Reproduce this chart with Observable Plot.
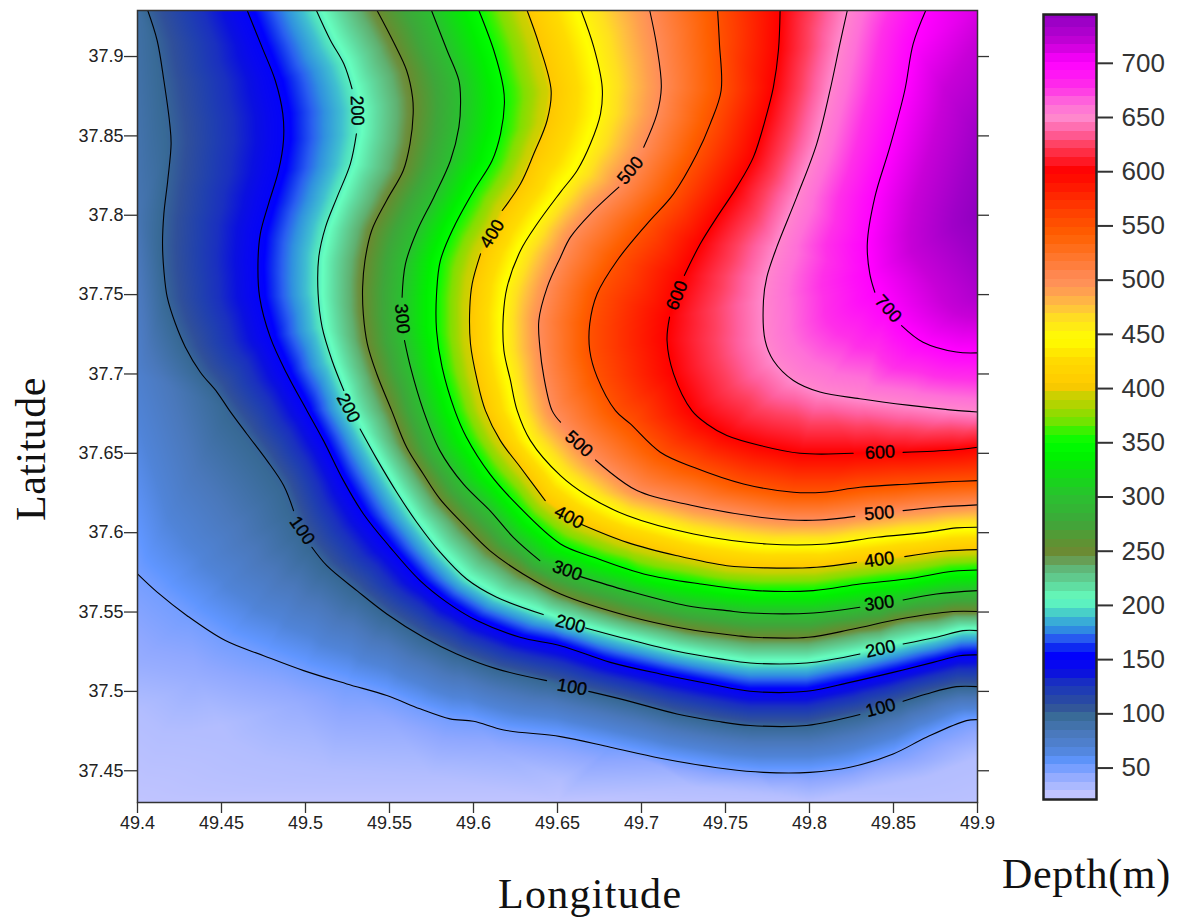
<!DOCTYPE html>
<html><head><meta charset="utf-8">
<style>
html,body{margin:0;padding:0;background:#fff;width:1180px;height:922px;overflow:hidden;position:relative}
.t{position:absolute;font-family:"Liberation Serif",serif;font-size:42px;line-height:48px;color:#111;white-space:nowrap}
#main,#bar{position:absolute;top:0}
#main{left:0}#bar{left:1030px}
</style>
<script src="https://cdn.jsdelivr.net/npm/d3@7"></script>
<script src="https://cdn.jsdelivr.net/npm/@observablehq/plot@0.6"></script>
</head><body>
<div id="main"></div><div id="bar"></div>
<div class="t" style="left:498px;top:870px;letter-spacing:1.3px">Longitude</div>
<div class="t" style="left:1002px;top:850px;letter-spacing:.7px">Depth(m)</div>
<div class="t" style="left:31px;top:449px;transform:translate(-50%,-50%) rotate(-90deg);letter-spacing:.5px">Latitude</div>
<script>
// Traced isolines: [lon, lat] or [lon, lat, 1] where the line is interrupted by its label
const depth30 = [[49.4,37.4879],[49.4157,37.4753],[49.4295,37.4742],[49.4494,37.4784],[49.4554,37.469],[49.4752,37.4585],[49.5149,37.4501],[49.5744,37.4469],[49.6518,37.4438],[49.731,37.4396],[49.7805,37.4354],[49.83,37.4375],[49.8696,37.4459],[49.9,37.4585]];
const depth40 = [[49.4,37.5173],[49.4355,37.5089],[49.4949,37.4921],[49.5544,37.4753],[49.6138,37.4627],[49.6518,37.4574],[49.7112,37.4522],[49.7706,37.4438],[49.83,37.4459],[49.8696,37.4564],[49.9,37.4701]];
const depth50 = [[49.4,37.574],[49.4117,37.5625],[49.4295,37.5477],[49.4523,37.532],[49.4751,37.5225],[49.4989,37.5131],[49.5246,37.5047],[49.5484,37.4974],[49.5682,37.489],[49.586,37.4827],[49.6,37.4812],[49.618,37.4757],[49.6518,37.4715],[49.6815,37.4648],[49.7112,37.4579],[49.7508,37.4511],[49.7726,37.449],[49.8003,37.449],[49.8241,37.4522],[49.8498,37.4606],[49.8696,37.4711],[49.8934,37.4816],[49.9,37.4822]];
const depth100 = [[49.4061,37.929],[49.4117,37.9101],[49.4157,37.8849],[49.4192,37.8576],[49.42,37.845],[49.418,37.8219],[49.4157,37.8009],[49.4149,37.782],[49.4157,37.7652],[49.4177,37.7484],[49.4226,37.7316],[49.4285,37.7169],[49.4374,37.7011],[49.4473,37.6886],[49.4548,37.6769],[49.4651,37.6622],[49.4771,37.6454],[49.487,37.6297],[49.4929,37.6139],[49.498,37.6013,1],[49.5038,37.5908],[49.5127,37.5792],[49.5306,37.5635],[49.5484,37.5488],[49.5702,37.5341],[49.59,37.5236],[49.6138,37.5142],[49.6435,37.5068],[49.6587,37.5026,1],[49.6686,37.5],[49.6914,37.4942],[49.7211,37.4858],[49.7449,37.4812],[49.7647,37.4785],[49.7983,37.4785],[49.83,37.4854],[49.8423,37.4896,1],[49.8557,37.4938],[49.8696,37.4984],[49.8874,37.503],[49.9,37.503]];
const depth150 = [[49.4653,37.929],[49.4741,37.9059],[49.482,37.8849],[49.4865,37.8639],[49.4869,37.8471],[49.484,37.8282],[49.478,37.8072],[49.4731,37.7883],[49.4717,37.7694],[49.4727,37.7484],[49.479,37.7232],[49.4889,37.7001],[49.5008,37.677],[49.5107,37.658],[49.5226,37.6328],[49.5345,37.6118],[49.5504,37.5908],[49.5682,37.5698],[49.5842,37.5561],[49.602,37.5446],[49.6277,37.5341],[49.6518,37.5288],[49.6815,37.5183],[49.7112,37.511],[49.7409,37.5047],[49.7647,37.5001],[49.7983,37.5001],[49.8241,37.5057],[49.8498,37.512],[49.8736,37.5183],[49.8894,37.5225],[49.9,37.523]];
const depth200 = [[49.5065,37.929],[49.5149,37.9101],[49.5228,37.8954],[49.5277,37.8797],[49.5307,37.866,1],[49.5303,37.8513],[49.5267,37.8324],[49.5188,37.8114],[49.5119,37.7925],[49.5079,37.7736],[49.5075,37.7505],[49.5099,37.7295],[49.5158,37.7085],[49.5228,37.6896],[49.5255,37.6785,1],[49.5325,37.6653],[49.5424,37.6465],[49.5543,37.6255],[49.5662,37.6066],[49.5801,37.5877],[49.5959,37.5708],[49.6138,37.5593],[49.6415,37.5484],[49.6577,37.5425,1],[49.6667,37.54],[49.6914,37.533],[49.7211,37.5253],[49.7468,37.5205],[49.7647,37.5179],[49.7983,37.5179],[49.83,37.5236],[49.8423,37.5267,1],[49.8557,37.5299],[49.8755,37.5341],[49.8914,37.5383],[49.9,37.5383]];
const depth250 = [[49.5426,37.929],[49.5524,37.9091],[49.5602,37.8912],[49.5637,37.8744],[49.5641,37.8639],[49.5622,37.845],[49.5582,37.8282],[49.5483,37.8093],[49.5394,37.7904],[49.5354,37.7715],[49.534,37.7547],[49.5344,37.7379],[49.5368,37.719],[49.5424,37.7001],[49.5513,37.6769],[49.5602,37.6538],[49.5701,37.637],[49.58,37.6213],[49.5938,37.6055],[49.6097,37.5887],[49.6295,37.574],[49.6518,37.5614],[49.6914,37.5477],[49.727,37.5393],[49.7567,37.5351],[49.7666,37.5341],[49.7993,37.5341],[49.826,37.5393],[49.8538,37.5456],[49.8854,37.5503],[49.9,37.5503]];
const depth300 = [[49.575,37.929],[49.5843,37.9038],[49.5913,37.8849],[49.5923,37.8723],[49.5913,37.8555],[49.5863,37.8345],[49.5764,37.8114],[49.5665,37.7904],[49.5595,37.7694],[49.5575,37.7484],[49.5575,37.7348,1],[49.5589,37.7211],[49.5625,37.7043],[49.5702,37.6769],[49.58,37.6517],[49.5939,37.6307],[49.6098,37.6139],[49.6237,37.5971],[49.6395,37.5824],[49.6558,37.5761,1],[49.6637,37.5723],[49.6914,37.5635],[49.727,37.554],[49.7508,37.5509],[49.7647,37.5494],[49.8022,37.5494],[49.83,37.553],[49.8415,37.5555,1],[49.8557,37.5576],[49.8755,37.5614],[49.9,37.5635]];
const depth350 = [[49.6032,37.929],[49.6121,37.9038],[49.6177,37.8807],[49.6184,37.8702],[49.6161,37.8513],[49.6111,37.8345],[49.6002,37.8156],[49.5883,37.7925],[49.5803,37.7715],[49.578,37.7505],[49.578,37.7274],[49.5813,37.7043],[49.5889,37.6769],[49.5958,37.6601],[49.6097,37.637],[49.6255,37.6181],[49.6518,37.5929],[49.6716,37.5845],[49.7013,37.574],[49.735,37.5677],[49.7686,37.5635],[49.8022,37.5635],[49.83,37.5677],[49.8577,37.5708],[49.8854,37.5757],[49.9,37.5765]];
const depth400 = [[49.6319,37.929],[49.6389,37.908],[49.6462,37.8786],[49.6438,37.8597],[49.6359,37.8387],[49.628,37.8198],[49.6171,37.803],[49.6111,37.7883,1],[49.6042,37.7757],[49.5992,37.7568],[49.5978,37.7421],[49.5982,37.719],[49.6022,37.6959],[49.6071,37.6769],[49.616,37.658],[49.6279,37.6412],[49.6427,37.6202],[49.6568,37.6097,1],[49.6637,37.6055],[49.6914,37.5939],[49.7211,37.5855],[49.7508,37.5792],[49.7746,37.5778],[49.8043,37.5782],[49.828,37.5813],[49.8415,37.583,1],[49.8567,37.5849],[49.8795,37.5883],[49.9,37.5893]];
const depth450 = [[49.6641,37.929],[49.6716,37.9059],[49.6766,37.8807],[49.6756,37.8639],[49.6696,37.845],[49.6617,37.8282],[49.6518,37.8146],[49.6379,37.7946],[49.628,37.7778],[49.62,37.7547],[49.6177,37.7358],[49.6181,37.7148],[49.622,37.6959],[49.626,37.6769],[49.6339,37.658],[49.6518,37.6359],[49.6676,37.6234],[49.6914,37.6108],[49.731,37.5992],[49.7746,37.5929],[49.8102,37.5929],[49.8399,37.5971],[49.8696,37.6002],[49.8874,37.603],[49.9,37.6034]];
const depth500 = [[49.7049,37.929],[49.7092,37.9059],[49.7118,37.8807],[49.7092,37.8639],[49.7013,37.8429],[49.6934,37.8282,1],[49.6865,37.8177],[49.6696,37.8009],[49.6577,37.7862],[49.6518,37.7736],[49.6439,37.7547],[49.6389,37.7337],[49.6395,37.7169],[49.6419,37.698],[49.6468,37.6769],[49.6518,37.6696],[49.6627,37.6559,1],[49.6726,37.6458],[49.6973,37.6265],[49.731,37.617],[49.7706,37.6097],[49.7884,37.608],[49.8062,37.608],[49.827,37.6103],[49.8415,37.6122,1],[49.8557,37.6139],[49.8755,37.616],[49.9,37.6175]];
const depth550 = [[49.7453,37.929],[49.7464,37.908],[49.7474,37.8786],[49.7409,37.8576],[49.733,37.8387],[49.7191,37.8135],[49.7033,37.7946],[49.6855,37.7715],[49.6736,37.7505],[49.6692,37.7316],[49.6692,37.7148],[49.6736,37.698],[49.6845,37.6769],[49.6934,37.6685],[49.7112,37.6507],[49.731,37.6412],[49.7607,37.6307],[49.7904,37.6255],[49.8082,37.6255],[49.83,37.6286],[49.8597,37.6307],[49.8854,37.6322],[49.9,37.6328]];
const depth600 = [[49.7825,37.929],[49.7815,37.9038],[49.7785,37.8807],[49.7746,37.8639],[49.7666,37.8366],[49.7567,37.8177],[49.7449,37.7988],[49.735,37.782],[49.7255,37.7621],[49.7211,37.7495,1],[49.7167,37.7358],[49.7152,37.7211],[49.7191,37.7001],[49.73,37.6769],[49.7389,37.6685],[49.7508,37.6612],[49.7706,37.6549],[49.7944,37.65],[49.826,37.65],[49.8419,37.6506,1],[49.8557,37.6506],[49.8854,37.6521],[49.9,37.6538]];
const depth650 = [[49.8225,37.929],[49.8181,37.908],[49.8122,37.8786],[49.8043,37.845],[49.7924,37.8114],[49.7805,37.7799],[49.7746,37.761],[49.7726,37.7463],[49.7736,37.7211],[49.7785,37.7085],[49.7904,37.6959],[49.8062,37.6886],[49.83,37.6844],[49.8597,37.6802],[49.8835,37.6774],[49.9,37.676]];
const depth700 = [[49.8692,37.929],[49.8617,37.908],[49.8567,37.8786],[49.8478,37.8429],[49.8389,37.8114],[49.8344,37.782],[49.8359,37.7631],[49.8389,37.7515],[49.8468,37.741,1],[49.8548,37.7305],[49.8676,37.72],[49.8874,37.7138],[49.9,37.7133]];
// Depths read at the edges of the map, away from any isoline: [lon, lat, depth]
const edgeDepths = [[49.4,37.929,92],[49.4,37.8,85],[49.4,37.7,72],[49.4,37.43,25],[49.65,37.43,25],[49.8,37.43,27],[49.9,37.43,27],[49.9,37.929,712],[49.9,37.85,735],[49.9,37.8,745],[49.9,37.75,728]];

// Contour labels
const labelText = ["200","300","400","500","600","700","200","100","500","400","300","200","100","600","500","400","300","200","100"];
const labelLon = [49.5307,49.5575,49.6111,49.6934,49.7211,49.8468,49.5255,49.498,49.6627,49.6568,49.6558,49.6577,49.6587,49.8419,49.8415,49.8415,49.8415,49.8423,49.8423];
const labelLat = [37.866,37.7348,37.7883,37.8282,37.7495,37.741,37.6785,37.6013,37.6559,37.6097,37.5761,37.5425,37.5026,37.6506,37.6122,37.583,37.5555,37.5267,37.4896];
const labelTurn = [88,85,-58,-50,-68,48,62,55,42,28,20,15,10,-3,-5,-8,-8,-12,-15];

// Color ramp
const rampDepth = [21,25,34,43,55,67,82,98,107,119,128,138,144,155,162,170,178,190,196,205,218,236,245,250,275,300,335,350,362,371,381,390,396,402,427,445,464,476,489,500,519,541,562,581,600,612,624,636,649,661,677,692,701,717,735,745];
const rampColor = ["#ccc8ff","#c0c4ff","#a8b8ff","#90a8ff","#6096ff","#5084d8","#4a78bb","#386a96","#30509a","#2040b0","#1a30c0","#0a10e0","#0808f0","#0000ff","#1030f0","#2a60f0","#3090e0","#40c0d0","#50e0c0","#66ffc0","#60dba0","#60b070","#6c9040","#6b8a30","#3fa63a","#2ac030","#00f000","#00ff00","#40f000","#80e000","#a0d800","#c8d000","#d0d000","#ffc800","#ffdc00","#ffff00","#ffe020","#ffc040","#ffa050","#ff8c5a","#ff7830","#ff6000","#ff4000","#ff2000","#ff0000","#ff2030","#ff4060","#ff60a0","#ff88cc","#ff70d8","#ff30e8","#ff10f8","#ff00ff","#c800d8","#a000c8","#9000c0"];

const xTicks = [49.4,49.45,49.5,49.55,49.6,49.65,49.7,49.75,49.8,49.85,49.9];
const yTicks = [37.45,37.5,37.55,37.6,37.65,37.7,37.75,37.8,37.85,37.9];
const barTicks = [50,100,150,200,250,300,350,400,450,500,550,600,650,700];

const isolines = [[50,depth50],[100,depth100],[150,depth150],[200,depth200],[250,depth250],[300,depth300],[350,depth350],[400,depth400],[450,depth450],[500,depth500],[550,depth550],[600,depth600],[650,depth650],[700,depth700]];
const lineRows = isolines.flatMap(([level,pts]) => pts.map(([lon,lat,gap]) => ({level,lon,lat,gap:!!gap})));
const fieldRows = [
  ...lineRows,
  ...depth30.map(([lon,lat]) => ({level:30,lon,lat})),
  ...depth40.map(([lon,lat]) => ({level:40,lon,lat})),
  ...edgeDepths.map(([lon,lat,level]) => ({level,lon,lat}))
];
const labels = labelText.map((text,i) => ({text,lon:labelLon[i],lat:labelLat[i],turn:labelTurn[i]}));
const colorScale = {type:"linear",domain:rampDepth,range:rampColor,clamp:true};
const tickFont = {fontFamily:"'Liberation Sans',Arial,sans-serif"};

document.getElementById("main").append(Plot.plot({
  width:1005,height:835,marginLeft:137,marginTop:10,marginRight:28,marginBottom:33,
  style:{background:"transparent",...tickFont},
  x:{domain:[49.4,49.9],label:null},
  y:{domain:[37.43,37.929],label:null},
  color:colorScale,
  marks:[
    Plot.raster(fieldRows,{x:"lon",y:"lat",fill:"level",interpolate:"barycentric",pixelSize:1}),
    Plot.line(lineRows,{x:"lon",y:d => d.gap ? NaN : d.lat,z:"level",stroke:"#000",strokeWidth:1.1,curve:"catmull-rom"}),
    Plot.text(labels,{x:"lon",y:"lat",text:"text",rotate:"turn",fontSize:18,fill:"#000",stroke:"#000",strokeWidth:.35,...tickFont}),
    Plot.frame({stroke:"#333",strokeWidth:1.5}),
    Plot.axisX(xTicks,{anchor:"bottom",tickSize:11,tickPadding:3,fontSize:18,stroke:"#333",fill:"#222",strokeWidth:1.3,label:null,tickFormat:d => String(d)}),
    Plot.axisY(yTicks,{anchor:"left",tickSize:13,tickPadding:1,fontSize:18,stroke:"#333",fill:"#222",strokeWidth:1.3,label:null,tickFormat:d => String(d)}),
    Plot.axisY(yTicks,{anchor:"right",tickSize:11,tickFormat:() => "",stroke:"#333",strokeWidth:1.3,label:null})
  ]
}));

const bandStep = 8;
const bands = d3.range(21,745,bandStep).map(d => ({lo:d,hi:Math.min(d+bandStep,745)}));
document.getElementById("bar").append(Plot.plot({
  width:150,height:810,marginLeft:13,marginRight:84,marginTop:14,marginBottom:11,
  style:{background:"transparent",...tickFont},
  x:{domain:[0,1],axis:null},
  y:{domain:[21,745],label:null},
  color:colorScale,
  marks:[
    Plot.rect(bands,{x1:0,x2:1,y1:"lo",y2:"hi",fill:d => (d.lo+d.hi)/2,shapeRendering:"crispEdges"}),
    Plot.frame({stroke:"#222",strokeWidth:2.5}),
    Plot.axisY(barTicks,{anchor:"right",tickSize:16,tickPadding:9,fontSize:26,stroke:"#333",fill:"#333",strokeWidth:2,label:null,tickFormat:d => String(d)})
  ]
}));
</script>
</body></html>
